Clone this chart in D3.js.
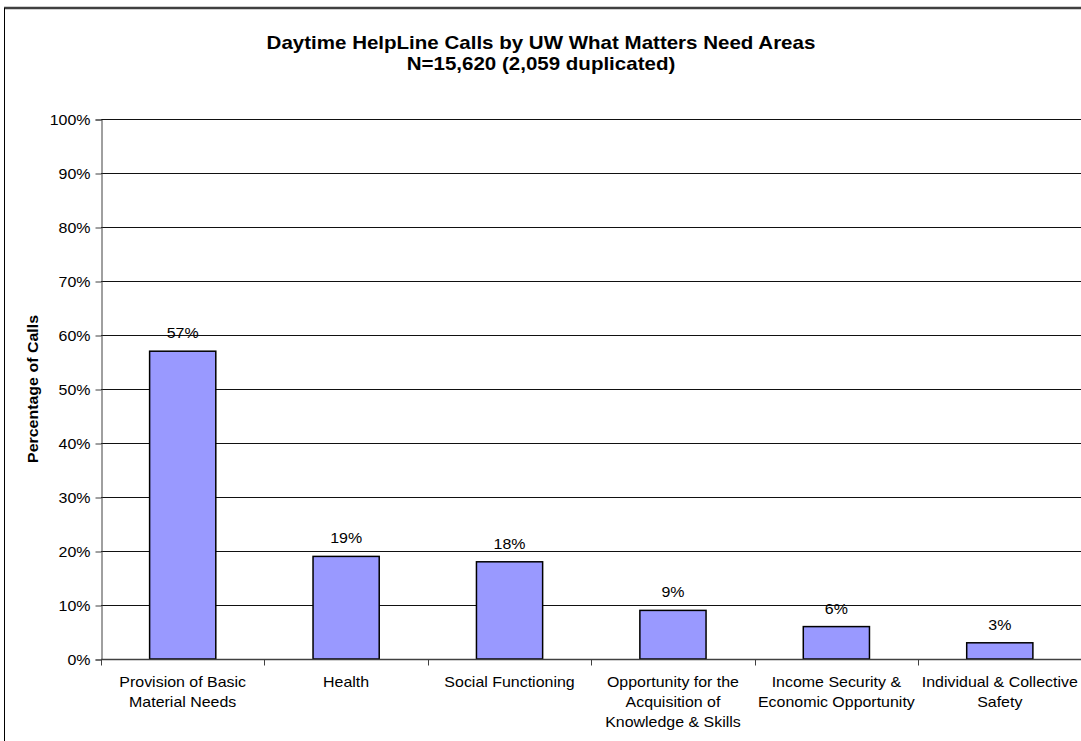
<!DOCTYPE html>
<html>
<head>
<meta charset="utf-8">
<script src="https://cdn.jsdelivr.net/npm/d3@7"></script>
<style>
  html, body { margin: 0; padding: 0; background: #fff; }
  svg { display: block; }
</style>
</head>
<body>
<svg id="chart" width="1081" height="741"></svg>
<script>
// Need areas and share of daytime HelpLine calls (%)
const categories = [
  ["Provision of Basic", "Material Needs"],
  ["Health"],
  ["Social Functioning"],
  ["Opportunity for the", "Acquisition of", "Knowledge & Skills"],
  ["Income Security &", "Economic Opportunity"],
  ["Individual & Collective", "Safety"]
];
const values = [57, 19, 18, 9, 6, 3];
const yTicks = [0, 10, 20, 30, 40, 50, 60, 70, 80, 90, 100];
const titleLines = ["Daytime HelpLine Calls by UW What Matters Need Areas", "N=15,620 (2,059 duplicated)"];
const yAxisTitle = "Percentage of Calls";

const svg = d3.select("#chart");
const font = "Arial, 'Liberation Sans', Helvetica, sans-serif";
const SX = 1.14; // horizontal stretch of the lettering

// widen text horizontally about its anchor x
function stretch(sel, ax) {
  sel.attr("transform", function () {
    const a = ax !== undefined ? ax : +d3.select(this).attr("x");
    return `translate(${a},0) scale(${SX},1) translate(${-a},0)`;
  });
}

const plot = { left: 101, right: 1081 + 0.5, top: 119, bottom: 659 };

// frame of the chart box
svg.append("line").attr("x1", 4).attr("x2", 1081).attr("y1", 8).attr("y2", 8)
  .attr("stroke", "#404040").attr("stroke-width", 2.5);
svg.append("line").attr("x1", 4.5).attr("x2", 4.5).attr("y1", 8).attr("y2", 741)
  .attr("stroke", "#000").attr("stroke-width", 1);

const x = d3.scaleBand().domain(d3.range(categories.length))
  .range([plot.left, plot.right]).paddingInner(0).paddingOuter(0);
const y = d3.scaleLinear().domain([0, 100]).range([plot.bottom, plot.top]);

// title
const title = svg.append("text").attr("text-anchor", "middle").attr("x", 541)
  .attr("font-family", font).attr("font-weight", "bold").attr("font-size", 18).attr("fill", "#000");
titleLines.forEach((t, i) => {
  title.append("tspan").attr("x", 541).attr("y", 49 + i * 21).text(t);
});
stretch(title);

// horizontal gridlines
svg.append("g").selectAll("line").data(yTicks.filter(d => d > 0)).join("line")
  .attr("x1", plot.left).attr("x2", 1081)
  .attr("y1", d => Math.round(y(d)) + 0.5).attr("y2", d => Math.round(y(d)) + 0.5)
  .attr("stroke", "#111").attr("stroke-width", 1);

// y axis
const yAxis = d3.axisLeft(y).tickValues(yTicks).tickFormat(d => d + "%").tickSize(6).tickPadding(5);
const gy = svg.append("g").attr("transform", `translate(${plot.left + 0.5},0.5)`).call(yAxis);
gy.select(".domain").attr("stroke", "#404040");
gy.selectAll(".tick line").attr("stroke", "#404040");
gy.selectAll(".tick text").attr("font-family", font).attr("font-size", 14).attr("fill", "#000")
  .attr("dy", "0.35em");
stretch(gy.selectAll(".tick text"), -11);

// y axis title
svg.append("text")
  .attr("transform", `translate(38,${(plot.top + plot.bottom) / 2}) rotate(-90) scale(${SX},1)`)
  .attr("text-anchor", "middle")
  .attr("font-family", font).attr("font-weight", "bold").attr("font-size", 14).attr("fill", "#000")
  .text(yAxisTitle);

// bars
const barW = x.bandwidth() * 0.405;
svg.append("g").selectAll("rect").data(values).join("rect")
  .attr("x", (d, i) => x(i) + (x.bandwidth() - barW) / 2)
  .attr("y", d => y(d))
  .attr("width", barW)
  .attr("height", d => y(0) - y(d))
  .attr("fill", "#9999FF").attr("stroke", "#000").attr("stroke-width", 1.5);

// value labels
const vl = svg.append("g").selectAll("text").data(values).join("text")
  .attr("x", (d, i) => x(i) + x.bandwidth() / 2)
  .attr("y", d => y(d) - 13)
  .attr("text-anchor", "middle")
  .attr("font-family", font).attr("font-size", 14).attr("fill", "#000")
  .text(d => d + "%");
stretch(vl);

// x axis
const gx = svg.append("g").attr("transform", `translate(0,${plot.bottom + 0.5})`);
gx.append("line").attr("x1", plot.left).attr("x2", 1081).attr("stroke", "#404040").attr("stroke-width", 1.5);
gx.selectAll(".tk").data(d3.range(categories.length + 1)).join("line").attr("class", "tk")
  .attr("x1", i => Math.round(plot.left + i * x.bandwidth()) + 0.5)
  .attr("x2", i => Math.round(plot.left + i * x.bandwidth()) + 0.5)
  .attr("y1", 0).attr("y2", 6).attr("stroke", "#404040");

const labels = gx.selectAll(".lbl").data(categories).join("text").attr("class", "lbl")
  .attr("text-anchor", "middle")
  .attr("x", (d, i) => x(i) + x.bandwidth() / 2)
  .attr("font-family", font).attr("font-size", 14).attr("fill", "#000");
labels.each(function (lines, i) {
  const t = d3.select(this);
  lines.forEach((l, j) => {
    t.append("tspan").attr("x", x(i) + x.bandwidth() / 2).attr("y", 28 + j * 20).text(l);
  });
});
stretch(labels);
</script>
</body>
</html>
